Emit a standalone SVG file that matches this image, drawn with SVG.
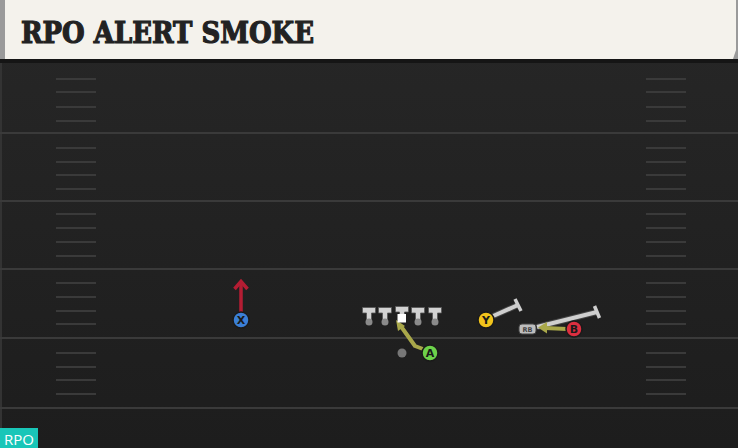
<svg xmlns="http://www.w3.org/2000/svg" width="738" height="448" viewBox="0 0 738 448">
<defs>
<linearGradient id="fieldGrad" x1="0" y1="0" x2="0" y2="1">
<stop offset="0" stop-color="#272727"/>
<stop offset="1" stop-color="#1d1d1d"/>
</linearGradient>
<style>
.yard{stroke:#3a3a3a;stroke-width:2}
.hash{stroke:#3a3a3a;stroke-width:2}
.lbl{font-family:"DejaVu Sans","Liberation Sans",sans-serif;font-weight:bold;font-size:11px;fill:#1a1a1a;text-anchor:middle}
.pl{stroke:#1a1a1a;stroke-width:1.5}
.ol{fill:#d2d2d2;stroke:#555;stroke-width:0.8}
.grayroute{stroke:#cfcfcf;stroke-width:4;fill:none;stroke-linecap:butt}
.olive{stroke:#a9a84a;stroke-width:4;fill:none}
</style>
</defs>
<rect x="0" y="0" width="738" height="448" fill="url(#fieldGrad)"/>
<rect x="0" y="59" width="738" height="4" fill="#151515"/>
<rect x="0" y="63" width="2" height="385" fill="#333"/>
<g id="header">
<rect x="0" y="0" width="738" height="59" fill="#9a9a9a"/>
<polygon points="5,0 736,0 736,50 733,59 5,59" fill="#f4f2ec"/>
<text x="21" y="43" font-family="DejaVu Serif, Liberation Serif, serif" font-weight="bold" font-size="29" fill="#222" stroke="#222" stroke-width="1.2" textLength="293" lengthAdjust="spacingAndGlyphs">RPO ALERT SMOKE</text>
</g>
<g id="field-lines">
<line class="yard" x1="0" y1="133" x2="738" y2="133"/>
<line class="yard" x1="0" y1="201" x2="738" y2="201"/>
<line class="yard" x1="0" y1="269" x2="738" y2="269"/>
<line class="yard" x1="0" y1="338" x2="738" y2="338"/>
<line class="yard" x1="0" y1="408" x2="738" y2="408"/>
<g id="hashes-left">
<line class="hash" x1="56" y1="79" x2="96" y2="79"/><line class="hash" x1="56" y1="92" x2="96" y2="92"/><line class="hash" x1="56" y1="107" x2="96" y2="107"/><line class="hash" x1="56" y1="121" x2="96" y2="121"/>
<line class="hash" x1="56" y1="148" x2="96" y2="148"/><line class="hash" x1="56" y1="162" x2="96" y2="162"/><line class="hash" x1="56" y1="175" x2="96" y2="175"/><line class="hash" x1="56" y1="189" x2="96" y2="189"/>
<line class="hash" x1="56" y1="214" x2="96" y2="214"/><line class="hash" x1="56" y1="228" x2="96" y2="228"/><line class="hash" x1="56" y1="242" x2="96" y2="242"/><line class="hash" x1="56" y1="256" x2="96" y2="256"/>
<line class="hash" x1="56" y1="283" x2="96" y2="283"/><line class="hash" x1="56" y1="297" x2="96" y2="297"/><line class="hash" x1="56" y1="311" x2="96" y2="311"/><line class="hash" x1="56" y1="324" x2="96" y2="324"/>
<line class="hash" x1="56" y1="353" x2="96" y2="353"/><line class="hash" x1="56" y1="367" x2="96" y2="367"/><line class="hash" x1="56" y1="380" x2="96" y2="380"/><line class="hash" x1="56" y1="394" x2="96" y2="394"/>
</g>
<g id="hashes-right">
<line class="hash" x1="646" y1="79" x2="686" y2="79"/><line class="hash" x1="646" y1="92" x2="686" y2="92"/><line class="hash" x1="646" y1="107" x2="686" y2="107"/><line class="hash" x1="646" y1="121" x2="686" y2="121"/>
<line class="hash" x1="646" y1="148" x2="686" y2="148"/><line class="hash" x1="646" y1="162" x2="686" y2="162"/><line class="hash" x1="646" y1="175" x2="686" y2="175"/><line class="hash" x1="646" y1="189" x2="686" y2="189"/>
<line class="hash" x1="646" y1="214" x2="686" y2="214"/><line class="hash" x1="646" y1="228" x2="686" y2="228"/><line class="hash" x1="646" y1="242" x2="686" y2="242"/><line class="hash" x1="646" y1="256" x2="686" y2="256"/>
<line class="hash" x1="646" y1="283" x2="686" y2="283"/><line class="hash" x1="646" y1="297" x2="686" y2="297"/><line class="hash" x1="646" y1="311" x2="686" y2="311"/><line class="hash" x1="646" y1="324" x2="686" y2="324"/>
<line class="hash" x1="646" y1="353" x2="686" y2="353"/><line class="hash" x1="646" y1="367" x2="686" y2="367"/><line class="hash" x1="646" y1="380" x2="686" y2="380"/><line class="hash" x1="646" y1="394" x2="686" y2="394"/>
</g>
</g>
<g id="connectors">
<g id="route-x">
<line x1="241" y1="312" x2="241" y2="284" stroke="#b41d33" stroke-width="3.5"/>
<polyline points="234.5,289 241,281.5 247.5,289" fill="none" stroke="#b41d33" stroke-width="3.5" stroke-linejoin="miter"/>
</g>
<g id="route-a">
<polyline points="423,349 415,346 400,325" class="olive" stroke-linejoin="round"/>
<polygon points="396,320 398,331 405,326" fill="#a9a84a"/>
</g>
<g id="route-y">
<line x1="491" y1="317" x2="518" y2="305" stroke="#444" stroke-width="6"/>
<line x1="491" y1="317" x2="518" y2="305" class="grayroute"/>
<line x1="515" y1="299" x2="521" y2="311" stroke="#cfcfcf" stroke-width="3.5"/>
</g>
<g id="route-rb">
<line x1="537" y1="327" x2="597" y2="312" stroke="#444" stroke-width="6"/>
<line x1="537" y1="327" x2="597" y2="312" class="grayroute"/>
<line x1="594.5" y1="306" x2="599.5" y2="318" stroke="#cfcfcf" stroke-width="3.5"/>
</g>
<g id="route-b">
<line x1="567" y1="329" x2="545" y2="328" class="olive"/>
<polygon points="538,327.5 547,322 547,333.5" fill="#a9a84a"/>
</g>
</g>
<g id="oline">
<g id="lt"><path class="ol" d="M362.5,307.5 h13 v5.5 h-4 v8 h-5 v-8 h-4 z"/><circle cx="369" cy="322" r="3.5" fill="#8a8a8a"/></g>
<g id="lg"><path class="ol" d="M378.5,307.5 h13 v5.5 h-4 v8 h-5 v-8 h-4 z"/><circle cx="385" cy="322" r="3.5" fill="#8a8a8a"/></g>
<g id="c"><path class="ol" d="M395.5,306.5 h13 v5.5 h-4 v4 h-5 v-4 h-4 z"/><rect x="397.5" y="314" width="8.5" height="8.5" fill="#ffffff"/></g>
<g id="rg"><path class="ol" d="M411.5,307.5 h13 v5.5 h-4 v8 h-5 v-8 h-4 z"/><circle cx="418" cy="322" r="3.5" fill="#8a8a8a"/></g>
<g id="rt"><path class="ol" d="M428.5,307.5 h13 v5.5 h-4 v8 h-5 v-8 h-4 z"/><circle cx="435" cy="322" r="3.5" fill="#8a8a8a"/></g>
</g>
<g id="qb"><circle cx="402" cy="353" r="4.5" fill="#777"/></g>
<g id="player-x"><circle class="pl" cx="241" cy="320" r="8" fill="#3b7fd6"/><text class="lbl" x="241" y="324">X</text></g>
<g id="player-a"><circle class="pl" cx="430" cy="353" r="8" fill="#6dd24a"/><text class="lbl" x="430" y="357">A</text></g>
<g id="player-y"><circle class="pl" cx="486" cy="320" r="8" fill="#f2c41c"/><text class="lbl" x="486" y="324">Y</text></g>
<g id="player-rb"><rect x="519" y="324" width="17" height="10" rx="3" fill="#bdbdbd" stroke="#444" stroke-width="1"/><text x="527.5" y="331.5" font-family="DejaVu Sans, sans-serif" font-size="6.5" font-weight="bold" fill="#444" text-anchor="middle">RB</text></g>
<g id="player-b"><circle class="pl" cx="574" cy="329" r="8" fill="#dc2f40"/><text class="lbl" x="574" y="333">B</text></g>
<g id="badge"><rect x="0" y="428" width="38" height="20" fill="#19c6b8"/><text x="19" y="444.5" font-family="Open Sans, DejaVu Sans, sans-serif" font-size="15" fill="#ffffff" text-anchor="middle">RPO</text></g>
</svg>
